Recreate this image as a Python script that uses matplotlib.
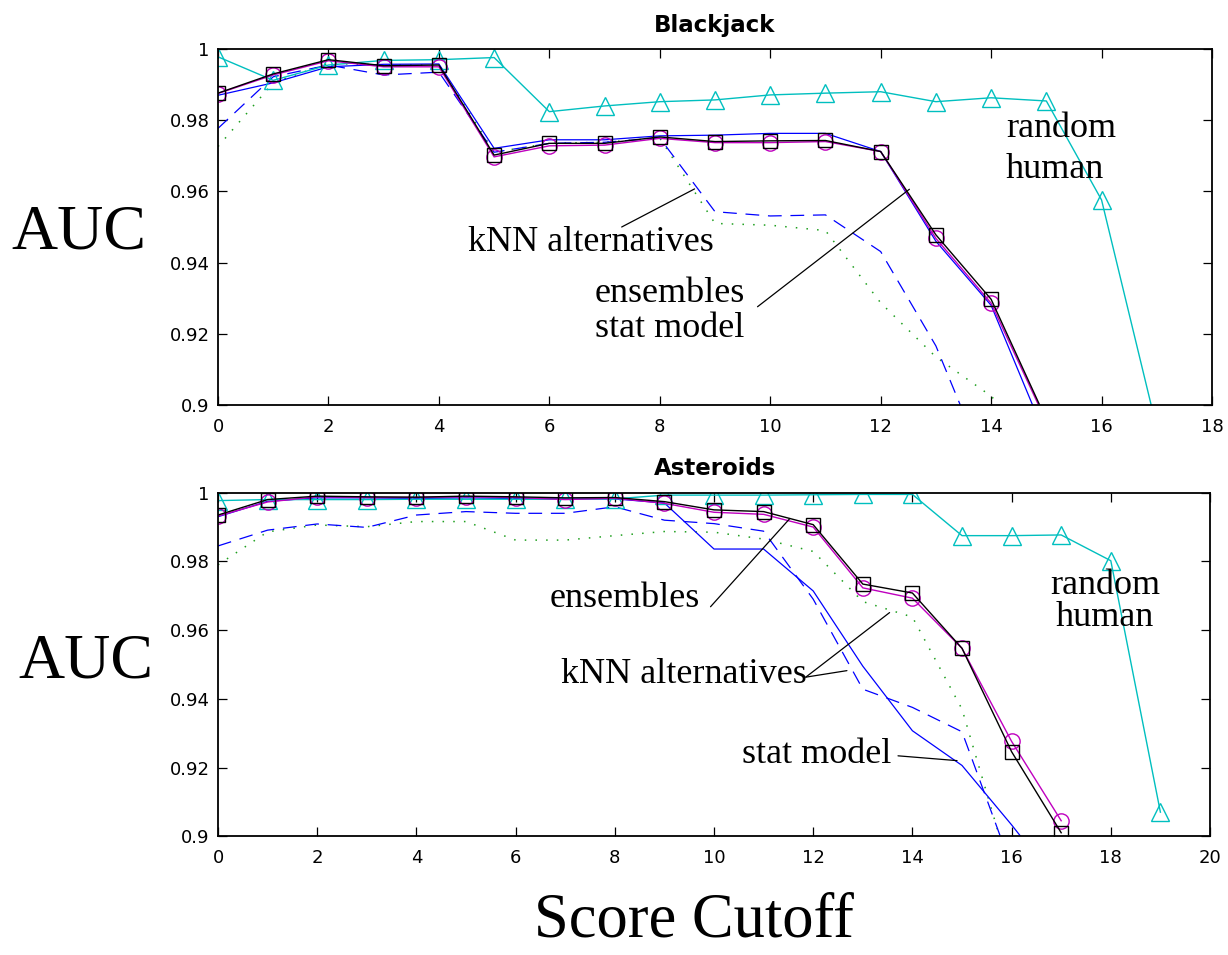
import matplotlib
matplotlib.use('Agg')
import matplotlib.pyplot as plt
from matplotlib.ticker import FormatStrFormatter

# Blackjack
bj_x = list(range(18))
bj_human = [0.9978, 0.9912, 0.9955, 0.9968, 0.9970, 0.9976, 0.9824, 0.9840, 0.9852,
            0.9857, 0.9871, 0.9876, 0.9880, 0.9852, 0.9863, 0.9854, 0.9576, 0.8935]
bj_circ = [0.9875, 0.9927, 0.9967, 0.9950, 0.9950, 0.9697, 0.9728, 0.9730, 0.9749,
           0.9737, 0.9737, 0.9740, 0.9712, 0.9468, 0.9286, 0.8953]
bj_sq = [0.9876, 0.9930, 0.9970, 0.9953, 0.9955, 0.9702, 0.9735, 0.9735, 0.9753,
         0.9740, 0.9742, 0.9743, 0.9712, 0.9478, 0.9297, 0.8959]
bj_stat = [0.9870, 0.9905, 0.9950, 0.9957, 0.9958, 0.9721, 0.9745, 0.9745, 0.9756,
           0.9758, 0.9763, 0.9763, 0.9712, 0.9460, 0.9280, 0.8907]
bj_knn1 = [0.9777, 0.9922, 0.9955, 0.9927, 0.9935, 0.9710, 0.9735, 0.9738, 0.9750,
           0.9543, 0.9531, 0.9534, 0.9431, 0.9166, 0.8790]
bj_knn2 = [0.9726, 0.9905, 0.9960, 0.9955, 0.9955, 0.9710, 0.9735, 0.9738, 0.9750,
           0.9510, 0.9505, 0.9490, 0.9287, 0.9135, 0.9025, 0.8860]

# Asteroids
as_x = list(range(20))
as_human = [0.9977, 0.9980, 0.9980, 0.9980, 0.9981, 0.9981, 0.9981, 0.9981, 0.9982, 0.9993,
            0.9993, 0.9993, 0.9994, 0.9995, 0.9995, 0.9875, 0.9875, 0.9877, 0.9802, 0.9070]
as_circ = [0.9932, 0.9973, 0.9988, 0.9986, 0.9986, 0.9988, 0.9986, 0.9980, 0.9984, 0.9969,
           0.9943, 0.9937, 0.9900, 0.9723, 0.9693, 0.9547, 0.9276, 0.9045]
as_sq = [0.9935, 0.9980, 0.9990, 0.9988, 0.9987, 0.9990, 0.9988, 0.9985, 0.9986, 0.9974,
         0.9950, 0.9945, 0.9907, 0.9734, 0.9708, 0.9547, 0.9246, 0.9010]
as_stat = [0.9930, 0.9975, 0.9985, 0.9985, 0.9983, 0.9985, 0.9983, 0.9982, 0.9982, 0.9970,
           0.9836, 0.9836, 0.9714, 0.9495, 0.9307, 0.9206, 0.9033, 0.8850]
as_knn1 = [0.9845, 0.9891, 0.9909, 0.9899, 0.9935, 0.9945, 0.9940, 0.9940, 0.9959, 0.9920,
           0.9910, 0.9888, 0.9690, 0.9428, 0.9375, 0.9304, 0.8910]
as_knn2 = [0.9790, 0.9886, 0.9906, 0.9901, 0.9916, 0.9916, 0.9862, 0.9862, 0.9875, 0.9887,
           0.9885, 0.9865, 0.9829, 0.9683, 0.9638, 0.9370, 0.8880]

serif = 'Liberation Serif'


def draw(ax, x, human, circ, sq, stat, knn1, knn2, xmax):
    ax.plot(x[:len(knn2)], knn2, color='#1f9f1f', lw=1.1, ls=(0, (1, 6)))
    ax.plot(x[:len(knn1)], knn1, color='blue', lw=0.9, ls=(0, (11, 7)))
    ax.plot(x[:len(stat)], stat, color='blue', lw=0.9)
    ax.plot(x[:len(human)], human, color='c', lw=1.0, marker='^', ms=13.5, mfc='none', mew=1.0)
    ax.plot(x[:len(circ)], circ, color='m', lw=1.0, marker='o', ms=11, mfc='none', mew=1.0)
    ax.plot(x[:len(sq)], sq, color='black', lw=1.0, marker='s', ms=10.5, mfc='none', mew=1.0)
    ax.set_xlim(0, xmax)
    ax.set_ylim(0.9, 1.0)
    ax.set_xticks(range(0, xmax + 1, 2))
    ax.set_yticks([0.9, 0.92, 0.94, 0.96, 0.98, 1.0])
    ax.yaxis.set_major_formatter(FormatStrFormatter('%g'))
    ax.tick_params(direction='in', top=True, right=True, length=6.5, width=0.9,
                   labelsize=13)
    ax.tick_params(axis='x', pad=9)
    ax.tick_params(axis='y', pad=6)
    for s in ax.spines.values():
        s.set_linewidth(1.3)


def leader(ax, p0, p1):
    ax.annotate('', xy=p1, xytext=p0,
                arrowprops=dict(arrowstyle='-', lw=0.9, color='black', shrinkA=0, shrinkB=0))


fig = plt.figure(figsize=(12.28, 9.55), dpi=100)
ax1 = fig.add_axes([218 / 1228, 1 - 405 / 955, 994 / 1228, 356 / 955])
ax2 = fig.add_axes([218 / 1228, 1 - 836.2 / 955, 992 / 1228, 343.5 / 955])

draw(ax1, bj_x, bj_human, bj_circ, bj_sq, bj_stat, bj_knn1, bj_knn2, 18)
draw(ax2, as_x, as_human, as_circ, as_sq, as_stat, as_knn1, as_knn2, 20)

# Blackjack labels
ax1.text(6.75, 0.9433, 'kNN alternatives', family=serif, fontsize=26, ha='center', va='baseline')
leader(ax1, (7.31, 0.950), (8.63, 0.9607))
ax1.text(8.18, 0.9288, 'ensembles', family=serif, fontsize=26, ha='center', va='baseline')
ax1.text(8.18, 0.9191, 'stat model', family=serif, fontsize=26, ha='center', va='baseline')
leader(ax1, (9.77, 0.9276), (12.52, 0.9606))
ax1.text(14.27, 0.9752, 'random', family=serif, fontsize=26, ha='left', va='baseline')
ax1.text(14.27, 0.9637, 'human', family=serif, fontsize=26, ha='left', va='baseline')

# Asteroids labels
ax2.text(8.21, 0.9667, 'ensembles', family=serif, fontsize=26, ha='center', va='baseline')
leader(ax2, (9.93, 0.9668), (11.53, 0.9925))
ax2.text(9.40, 0.9446, 'kNN alternatives', family=serif, fontsize=26, ha='center', va='baseline')
leader(ax2, (11.85, 0.9463), (13.54, 0.9651))
leader(ax2, (11.85, 0.9463), (12.68, 0.9482))
ax2.text(12.08, 0.9213, 'stat model', family=serif, fontsize=26, ha='center', va='baseline')
leader(ax2, (13.71, 0.9234), (14.90, 0.9220))
ax2.text(17.88, 0.9705, 'random', family=serif, fontsize=26, ha='center', va='baseline')
ax2.text(17.88, 0.9612, 'human', family=serif, fontsize=26, ha='center', va='baseline')

fig.text(715 / 1228, 1 - 31.7 / 955, 'Blackjack', fontsize=16.5, fontweight='bold',
         ha='center', va='baseline')
fig.text(715 / 1228, 1 - 475 / 955, 'Asteroids', fontsize=16.5, fontweight='bold',
         ha='center', va='baseline')
fig.text(79 / 1228, 1 - 248.3 / 955, 'AUC', family=serif, fontsize=46, ha='center', va='baseline')
fig.text(86 / 1228, 1 - 677 / 955, 'AUC', family=serif, fontsize=46, ha='center', va='baseline')
fig.text(694 / 1228, 1 - 936.7 / 955, 'Score Cutoff', family=serif, fontsize=45,
         ha='center', va='baseline')

fig.savefig('out.png', dpi=100)
